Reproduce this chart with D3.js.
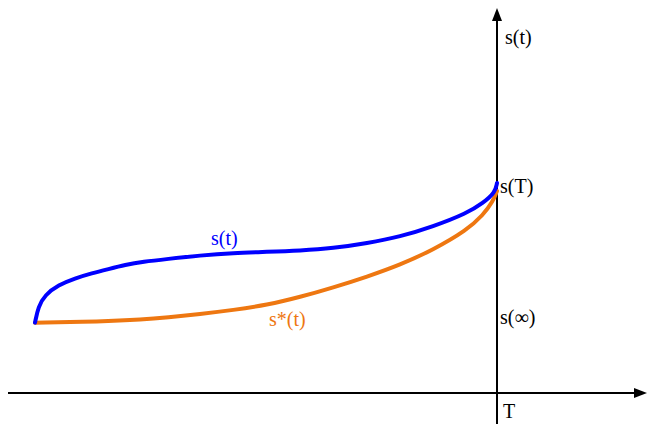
<!DOCTYPE html>
<html>
<head>
<meta charset="utf-8">
<script src="https://cdn.jsdelivr.net/npm/d3@7"></script>
<style>
body { margin:0; background:#fff; }
</style>
</head>
<body>
<div id="chart"></div>
<script>
// curve data (t from start to T=100, s in arbitrary units, s(T)=100)
var sT = [0, 0.71, 2.16, 5.04, 8.66, 12.3, 15.9, 19.5, 23.4, 28.6, 35.7, 42.9, 50.2, 57.4, 64.5, 71.9, 79.0, 86.1, 93.5, 97.0, 99.6, 100];
var sVal = [33.5, 41.1, 46.7, 51.4, 54.6, 57.0, 59.0, 61.0, 62.5, 63.8, 65.5, 66.7, 67.2, 67.8, 68.9, 71.3, 74.4, 79.2, 85.6, 90.5, 95.5, 100];
var starT = [0, 14.1, 23.4, 28.6, 35.7, 42.9, 50.2, 57.4, 64.5, 71.9, 79.0, 86.1, 93.5, 97.0, 99.1, 100];
var starVal = [33.5, 34.0, 35.0, 36.0, 37.6, 39.5, 41.9, 45.7, 50.2, 55.4, 61.0, 68.1, 77.6, 84.8, 91.1, 96.2];
var tickLabels = {top:'s(t)', sT:'s(T)', sInf:'s(\u221E)', T:'T'};
var sInf = 33.5, sTop = 100;

var svpWidth = 647;
var svpHeight = 425;

var svg = d3.select('#chart')
	.append('svg')
	.attr('width', svpWidth)
	.attr('height', svpHeight);

// scales: t=0 at the start of the curves, t=100 at T (the y-axis)
var x = d3.scaleLinear().domain([0, 100]).range([35, 497]);
var y = d3.scaleLinear().domain([0, 100]).range([393, 183]);

// x-axis
svg.append('line')
	.attr('x1', 8).attr('y1', y(0))
	.attr('x2', 640).attr('y2', y(0))
	.style('stroke', 'black')
	.style('stroke-width', 2);
svg.append('path')
	.attr('d', 'M647,' + y(0) + ' L634,' + (y(0) - 5) + ' L634,' + (y(0) + 5) + ' Z')
	.style('fill', 'black');
// y-axis
svg.append('line')
	.attr('x1', x(100)).attr('y1', 424)
	.attr('x2', x(100)).attr('y2', 14)
	.style('stroke', 'black')
	.style('stroke-width', 2);
svg.append('path')
	.attr('d', 'M' + x(100) + ',8 L' + (x(100) - 5) + ',21 L' + (x(100) + 5) + ',21 Z')
	.style('fill', 'black');

var line = d3.line()
	.x(function (d) {return x(d[0]);})
	.y(function (d) {return y(d[1]);})
	.curve(d3.curveBasis);

// s*(t) curve
svg.append('path')
	.datum(d3.zip(starT, starVal))
	.attr('d', line)
	.style('fill', 'none')
	.style('stroke', '#ee7711')
	.style('stroke-width', 4)
	.style('stroke-linecap', 'round');
// s(t) curve
svg.append('path')
	.datum(d3.zip(sT, sVal))
	.attr('d', line)
	.style('fill', 'none')
	.style('stroke', '#0000ff')
	.style('stroke-width', 4)
	.style('stroke-linecap', 'round');

// labels
function label(tx, px, py, color) {
	svg.append('text')
		.attr('x', px)
		.attr('y', py)
		.style('font-family', 'Liberation Serif, DejaVu Serif, serif')
		.style('font-size', '20px')
		.attr('fill', color)
		.text(tx);
}
label(tickLabels.top, 505, 44, 'black');
label(tickLabels.sT, x(100) + 3, y(sTop) + 10, 'black');
label(tickLabels.sInf, x(100) + 3, y(sInf) + 1, 'black');
label(tickLabels.T, 503, 418, 'black');
label('s(t)', 211, 245, '#0000ff');
label('s*(t)', 269, 326, '#ee7711');
</script>
</body>
</html>
